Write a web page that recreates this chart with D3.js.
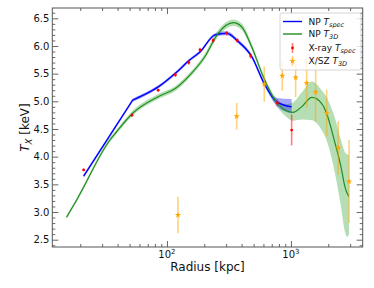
<!DOCTYPE html>
<html>
<head>
<meta charset="utf-8">
<script src="https://cdn.jsdelivr.net/npm/d3@7"></script>
<style>
  html, body { margin: 0; padding: 0; background: #fff; }
  svg { display: block; }
  text { font-family: "DejaVu Sans", sans-serif; }
</style>
</head>
<body>
<svg id="chart" width="374" height="288"></svg>
<script>
// ---------------- data ----------------
// NP T_spec model (blue); the first two points form a straight segment up to the kink
const blueR   = [21.3, 52.9, 64.4, 85.1, 117.5, 153, 184.5, 244, 303, 376, 482, 606, 767, 1013];
const blueT   = [3.65, 5.02, 5.11, 5.26, 5.51, 5.75, 5.89, 6.20, 6.23, 6.08, 5.81, 5.33, 4.99, 4.90];
const blueLo  = [3.62, 4.99, 5.08, 5.23, 5.48, 5.72, 5.86, 6.17, 6.195, 6.045, 5.775, 5.29, 4.92, 4.78];
const blueHi  = [3.68, 5.05, 5.14, 5.29, 5.54, 5.78, 5.92, 6.23, 6.265, 6.115, 5.845, 5.37, 5.06, 5.04];

// NP T_3D model (green)
const greenR  = [15.5, 18.7, 34.7, 39.3, 52.9, 85, 117.5, 153, 202, 259, 343, 400, 482, 598, 743, 895, 1038, 1219, 1476, 1770, 1941, 2264, 2530, 2723, 2850, 2938];
const greenT  = [2.905, 3.217, 4.301, 4.451, 4.784, 5.084, 5.235, 5.474, 5.806, 6.229, 6.420, 6.348, 5.987, 5.445, 5.024, 4.843, 4.80, 4.90, 5.07, 4.96, 4.78, 4.25, 3.82, 3.46, 3.33, 3.28];
const greenLo = [2.87, 3.18, 4.26, 4.41, 4.74, 5.04, 5.19, 5.43, 5.76, 6.17, 6.36, 6.29, 5.93, 5.39, 4.96, 4.74, 4.65, 4.67, 4.66, 4.48, 4.29, 3.70, 3.10, 2.65, 2.55, 2.60];
const greenHi = [2.94, 3.25, 4.34, 4.49, 4.83, 5.13, 5.28, 5.52, 5.86, 6.29, 6.48, 6.41, 6.05, 5.50, 5.09, 4.95, 4.98, 5.16, 5.36, 5.20, 5.07, 4.70, 4.30, 4.08, 4.04, 4.03];

// X-ray T_spec points (red)
const xrayR   = [21.3, 52.2, 85, 117, 150, 184.5, 236, 303, 369, 473, 776, 1013];
const xrayT   = [3.76, 4.75, 5.20, 5.48, 5.70, 5.93, 6.10, 6.23, 6.10, 5.82, 4.97, 4.48];
const xrayErr = [0.02, 0.03, 0.02, 0.04, 0.04, 0.04, 0.04, 0.04, 0.04, 0.05, 0.06, 0.28];

// X/SZ T_3D points (orange)
const szR     = [122.7, 365, 609, 851, 1091, 1339, 1582, 1941, 2404, 2944];
const szT     = [2.945, 4.73, 5.31, 5.46, 5.43, 5.33, 5.17, 4.79, 4.16, 3.55];
const szErr   = [0.33, 0.24, 0.32, 0.27, 0.35, 0.44, 0.54, 0.42, 0.48, 0.75];

// ticks
const yMajor = [2.5, 3.0, 3.5, 4.0, 4.5, 5.0, 5.5, 6.0, 6.5];
const yMinor = [2.4,2.6,2.7,2.8,2.9,3.1,3.2,3.3,3.4,3.6,3.7,3.8,3.9,4.1,4.2,4.3,4.4,4.6,4.7,4.8,4.9,5.1,5.2,5.3,5.4,5.6,5.7,5.8,5.9,6.1,6.2,6.3,6.4,6.6];
const xMajor = [100, 1000];
const xMajorExp = ["2", "3"];
const xMinor = [20,30,40,50,60,70,80,90,200,300,400,500,600,700,800,900,2000,3000];

// ---------------- layout ----------------
const L = 52.3, R = 362.7, T = 8, B = 247;
const svg = d3.select("#chart");
const x = d3.scaleLog().domain([11.9, 3790]).range([L, R]);
const y = d3.scaleLinear().domain([2.368, 6.686]).range([B, T]);

const frameColor = "#555";

const plot = svg.append("g");
plot.append("defs").append("clipPath").attr("id", "clip")
  .append("rect").attr("x", L).attr("y", T).attr("width", R - L).attr("height", B - T);
const g = plot.append("g").attr("clip-path", "url(#clip)");

function band(rs, lo, hi) { return rs.map((r, i) => ({ r, lo: lo[i], hi: hi[i] })); }
function pts(rs, ts) { return rs.map((r, i) => ({ r, t: ts[i] })); }

const area = d3.area().x(d => x(d.r)).y0(d => y(d.lo)).y1(d => y(d.hi)).curve(d3.curveMonotoneX);
const line = d3.line().x(d => x(d.r)).y(d => y(d.t)).curve(d3.curveMonotoneX);

// piecewise path for blue: straight segment to the kink, smooth after
function kinkPath(gen, data) {
  const first = data.slice(0, 2), rest = data.slice(1);
  const lin = gen.curve(d3.curveLinear)(first);
  const smooth = gen.curve(d3.curveMonotoneX)(rest);
  return lin + smooth.replace(/^M[^A-Za-z]*/, m => "L" + m.slice(1));
}

// bands
g.append("path").datum(band(greenR, greenLo, greenHi)).attr("d", area)
  .attr("fill", "#2ca02c").attr("fill-opacity", 0.35);
const blueBand = band(blueR, blueLo, blueHi);
const areaLin = d3.area().x(d => x(d.r)).y0(d => y(d.lo)).y1(d => y(d.hi)).curve(d3.curveLinear);
g.append("path").datum(blueBand.slice(0, 2)).attr("d", areaLin)
  .attr("fill", "#0000ff").attr("fill-opacity", 0.35);
g.append("path").datum(blueBand.slice(1)).attr("d", area)
  .attr("fill", "#0000ff").attr("fill-opacity", 0.35);

// lines
const bluePts = pts(blueR, blueT);
const lineGen = d3.line().x(d => x(d.r)).y(d => y(d.t));
g.append("path").attr("d", kinkPath(lineGen, bluePts))
  .attr("fill", "none").attr("stroke", "#0000ff").attr("stroke-width", 1.4).attr("stroke-linejoin", "miter");
g.append("path").datum(pts(greenR, greenT)).attr("d", line)
  .attr("fill", "none").attr("stroke", "#1f8f1f").attr("stroke-width", 1.2);

// error bars
function errorbars(rs, ts, es, color, marker) {
  const data = rs.map((r, i) => ({ r, t: ts[i], e: es[i] }));
  const gg = g.append("g");
  gg.selectAll("line").data(data).enter().append("line")
    .attr("x1", d => x(d.r)).attr("x2", d => x(d.r))
    .attr("y1", d => y(d.t - d.e)).attr("y2", d => y(d.t + d.e))
    .attr("stroke", color).attr("stroke-opacity", 0.5).attr("stroke-width", 1.6);
  gg.selectAll("path").data(data).enter().append("path")
    .attr("transform", d => `translate(${x(d.r)},${y(d.t)})`)
    .attr("d", marker)
    .attr("fill", color);
}
const redMarker = d3.symbol().type(d3.symbolCircle).size(6)();
const orangeMarker = d3.symbol().type(d3.symbolStar).size(12)();
errorbars(xrayR, xrayT, xrayErr, "#ff0000", redMarker);
errorbars(szR, szT, szErr, "#ffa500", orangeMarker);

// ---------------- axes ----------------
function styleAxis(sel) {
  sel.select(".domain").remove();
  sel.selectAll(".tick line").attr("stroke", frameColor).attr("stroke-width", 0.9);
  sel.selectAll(".tick text").attr("fill", "#111").style("font-family", "DejaVu Sans").style("font-size", "10px");
}
svg.append("g").attr("transform", `translate(${L},0)`)
  .call(d3.axisLeft(y).tickValues(yMajor).tickSize(-6).tickPadding(3).tickFormat(d3.format(".1f")))
  .call(styleAxis);
svg.append("g").attr("transform", `translate(${L},0)`)
  .call(d3.axisLeft(y).tickValues(yMinor).tickSize(-3).tickFormat(""))
  .call(styleAxis);
svg.append("g").attr("transform", `translate(${R},0)`)
  .call(d3.axisRight(y).tickValues(yMajor).tickSize(-6).tickFormat(""))
  .call(styleAxis);
svg.append("g").attr("transform", `translate(${R},0)`)
  .call(d3.axisRight(y).tickValues(yMinor).tickSize(-3).tickFormat(""))
  .call(styleAxis);
svg.append("g").attr("transform", `translate(0,${B})`)
  .call(d3.axisBottom(x).tickValues(xMajor).tickSize(-6).tickFormat(""))
  .call(styleAxis);
svg.append("g").attr("transform", `translate(0,${B})`)
  .call(d3.axisBottom(x).tickValues(xMinor).tickSize(-3).tickFormat(""))
  .call(styleAxis);
svg.append("g").attr("transform", `translate(0,${T})`)
  .call(d3.axisTop(x).tickValues(xMajor).tickSize(-6).tickFormat(""))
  .call(styleAxis);
svg.append("g").attr("transform", `translate(0,${T})`)
  .call(d3.axisTop(x).tickValues(xMinor).tickSize(-3).tickFormat(""))
  .call(styleAxis);

// x tick labels with superscripts
xMajor.forEach((v, i) => {
  const t = svg.append("text").attr("x", x(v)).attr("y", B + 10.5)
    .attr("text-anchor", "middle").attr("fill", "#111").style("font-size", "10px");
  t.append("tspan").text("10");
  t.append("tspan").attr("dy", -4).style("font-size", "7px").text(xMajorExp[i]);
});

// frame
svg.append("rect").attr("x", L).attr("y", T).attr("width", R - L).attr("height", B - T)
  .attr("fill", "none").attr("stroke", frameColor).attr("stroke-width", 1);

// axis labels
svg.append("text").attr("x", (L + R) / 2).attr("y", B + 23.5)
  .attr("text-anchor", "middle").attr("fill", "#111").style("font-size", "12px")
  .text("Radius [kpc]");
const yl = svg.append("text").attr("transform", `translate(29,${(T + B) / 2}) rotate(-90)`)
  .attr("text-anchor", "middle").attr("fill", "#111").style("font-size", "12px");
yl.append("tspan").style("font-style", "italic").text("T");
yl.append("tspan").attr("dy", 3).style("font-size", "8.5px").style("font-style", "italic").text("X");
yl.append("tspan").attr("dy", -3).text(" [keV]");

// ---------------- legend ----------------
const lg = svg.append("g");
lg.append("rect").attr("x", 280).attr("y", 13).attr("width", 81).attr("height", 57).attr("rx", 2)
  .attr("fill", "#fff").attr("fill-opacity", 0.8).attr("stroke", "#ccc").attr("stroke-width", 0.8);
const legendItems = [
  { y: 21.5, kind: "line", color: "#0000ff", label: "NP ", sub: "spec" },
  { y: 34.0, kind: "line", color: "#1f8f1f", label: "NP ", sub: "3D" },
  { y: 48.0, kind: "err", color: "#ff0000", marker: redMarker, label: "X-ray ", sub: "spec" },
  { y: 61.0, kind: "err", color: "#ffa500", marker: orangeMarker, label: "X/SZ ", sub: "3D" }
];
legendItems.forEach(it => {
  if (it.kind === "line") {
    lg.append("line").attr("x1", 283).attr("x2", 302).attr("y1", it.y).attr("y2", it.y)
      .attr("stroke", it.color).attr("stroke-width", 1.4);
  } else {
    lg.append("line").attr("x1", 292.5).attr("x2", 292.5).attr("y1", it.y - 5).attr("y2", it.y + 5)
      .attr("stroke", it.color).attr("stroke-opacity", 0.5).attr("stroke-width", 1.6);
    lg.append("path").attr("transform", `translate(292.5,${it.y})`).attr("d", it.marker).attr("fill", it.color);
  }
  const t = lg.append("text").attr("x", 308.5).attr("y", it.y + 3.2).attr("fill", "#111").style("font-size", "9px");
  t.append("tspan").text(it.label);
  t.append("tspan").style("font-style", "italic").text("T");
  t.append("tspan").attr("dy", 2.2).style("font-size", "6.5px").style("font-style", "italic").text(it.sub);
});
</script>
</body>
</html>
